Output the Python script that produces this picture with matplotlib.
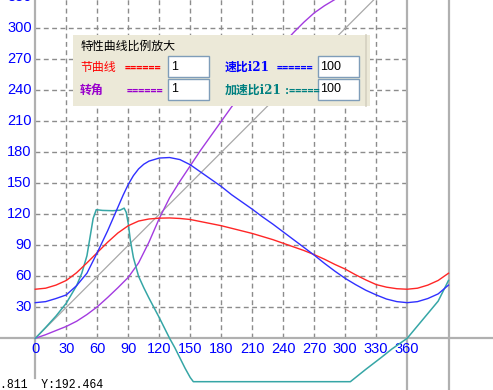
import matplotlib.pyplot as plt
from matplotlib.patches import Rectangle

# 节曲线 (red), sampled every 10 degrees
angle = list(range(0, 401, 10))
pitch = [47.5, 48.5, 51.5, 56, 63.5, 73, 83, 93, 102, 109, 113.5, 115.5, 116.3, 116.5,
         116, 115, 113, 111, 109, 106.5, 104, 101.5, 98.5, 95.5, 92, 88.5, 85, 81,
         76.5, 71.5, 67, 61.5, 56.5, 52, 49.5, 48, 47.5, 48.5, 51.5, 56, 63]

# 速比 (blue)
speed_x = [0, 10, 20, 30, 40, 50, 60, 70, 80, 85, 90, 95, 100, 105, 110, 120, 130,
           140, 150, 160, 170, 180, 190, 200, 210, 220, 230, 240, 250, 260, 270,
           280, 290, 300, 310, 320, 330, 340, 350, 360, 370, 380, 390, 400]
speed = [34.5, 35.5, 38.5, 42, 51, 63, 83, 104, 127, 138.5, 149, 157.5, 164, 168.5,
         171.5, 174.5, 175, 173, 168, 161, 154, 147, 139, 132, 125, 117.5, 110.5,
         103, 95.5, 88, 80.5, 72.5, 65, 58, 52, 46.5, 42, 38, 35.5, 34.5, 35.5,
         38.5, 43, 51.5]

# 转角 (purple)
turn_x = list(range(0, 301, 10))
turn = [0, 3.5, 7.5, 11.5, 16.5, 23, 30.5, 39.5, 49, 59, 73, 93, 116, 136, 152, 167,
        182, 196, 210, 224, 237, 250, 262, 274, 285, 296, 306, 315, 322, 328, 333]

# 加速比 (teal)
accel_x = [0, 10, 20, 30, 40, 45, 50, 53, 56, 59, 65, 75, 82, 86, 88, 90, 92, 95,
           100, 105, 110, 115, 120, 125, 130, 135, 140, 145, 150, 153,
           305, 320, 335, 345, 360, 375, 390, 400]
accel = [0, 10.5, 21.5, 34, 51, 63, 80, 98, 116, 124.5, 123.8, 123.5, 124, 126, 122,
         111, 95, 78, 60, 49, 39, 29.5, 20, 10, 0, -9, -19, -29, -38, -42,
         -42, -30, -18.5, -10.5, 0, 18, 36, 56]

diag = [0, 330]
ticks_x = list(range(0, 361, 30))
ticks_y = list(range(30, 331, 30))

S = 1.033
X0, Y0 = 35.3, 338.3
W, H = 493, 390

fig = plt.figure(figsize=(4.93, 3.9), dpi=100)
fig.patch.set_facecolor('white')
ax = fig.add_axes([0, 0, 1, 1])
ax.set_xlim(-X0 / S, (W - X0) / S)
ax.set_ylim(-(H - Y0) / S, Y0 / S)
ax.axis('off')

grid_kw = dict(color='#8c8c8c', lw=1.0, linestyle=(0, (3.5, 2.5)), zorder=1)
for t in ticks_x[1:-1]:
    ax.plot([t, t], [0, 400], **grid_kw)
for v in ticks_y:
    ax.plot([0, 360], [v, v], **grid_kw)

axis_kw = dict(color='#b0b0b0', lw=1.6, zorder=2)
ax.plot([0, 0], [-38, 400], **axis_kw)
ax.plot([-50, 500], [0, 0], **axis_kw)
ax.plot([360, 360], [-100, 400], **axis_kw)
ax.plot([400, 400], [-100, 400], **axis_kw)

for t in ticks_x:
    ax.text(t, -10.5, str(t), ha='center', va='center', color='#0000ff',
            fontsize=10.5, family='Liberation Sans')
for v in ticks_y:
    ax.text(-3.5, v, str(v), ha='right', va='center', color='#0000ff',
            fontsize=10.5, family='Liberation Sans')

ax.plot(diag, diag, color='#a8a8a8', lw=0.9, zorder=3)
ax.plot(turn_x, turn, color='#a33be0', lw=1.0, zorder=4)
ax.plot(accel_x, accel, color='#36a6a6', lw=1.1, zorder=4)
ax.plot(angle, pitch, color='#ff2626', lw=1.0, zorder=5)
ax.plot(speed_x, speed, color='#3030ff', lw=1.0, zorder=5)

# control panel, pixel coordinates
ov = fig.add_axes([0, 0, 1, 1], zorder=10)
ov.set_xlim(0, W)
ov.set_ylim(H, 0)
ov.axis('off')
ov.patch.set_alpha(0)

ov.add_patch(Rectangle((73, 35), 297, 71, fc='#ECE9D8', ec='none'))
ov.plot([365.5, 365.5], [35, 106], color='#d4d0c0', lw=1.2)
for bx in (168, 318):
    for by in (56, 79):
        ov.add_patch(Rectangle((bx, by), 41, 21, fc='white', ec='#7F9DB9', lw=1.0))

cjk = ['Noto Sans CJK SC', 'DejaVu Sans']
lab = ['DejaVu Serif', 'Noto Sans CJK SC']
ov.text(81, 46, '特性曲线比例放大', ha='left', va='center', fontsize=8.6,
        family=cjk, color='black')
ov.text(80, 67.5, '节曲线', ha='left', va='center', fontsize=8.6, family=cjk,
        color='#ff0000')
ov.text(80, 90.5, '转角', ha='left', va='center', fontsize=8.6, family=cjk,
        weight='bold', color='#9900cc')
ov.text(225, 67.5, '速比i21', ha='left', va='center', fontsize=8.6, family=lab,
        weight='bold', color='#0000ff')
ov.text(225, 90.5, '加速比i21', ha='left', va='center', fontsize=8.6, family=lab,
        weight='bold', color='#008080')

eq_kw = dict(ha='left', va='center', fontsize=7.3, family='DejaVu Sans Mono',
             weight='bold')
ov.text(125, 67.5, '======', color='#ff0000', **eq_kw)
ov.text(127, 90.5, '======', color='#9900cc', **eq_kw)
ov.text(277, 67.5, '======', color='#0000ff', **eq_kw)
ov.text(284, 90.5, ':=====', color='#008080', **eq_kw)

box_kw = dict(ha='left', va='center', fontsize=9, family='Liberation Sans', color='black')
ov.text(171, 66.5, '1', **box_kw)
ov.text(171, 89.5, '1', **box_kw)
ov.text(320, 66.5, '100', **box_kw)
ov.text(320, 89.5, '100', **box_kw)

ov.text(0, 384.5, '.811  Y:192.464', ha='left', va='center', fontsize=8.3,
        family='Liberation Mono', color='black')

fig.savefig('out.png', dpi=100)
